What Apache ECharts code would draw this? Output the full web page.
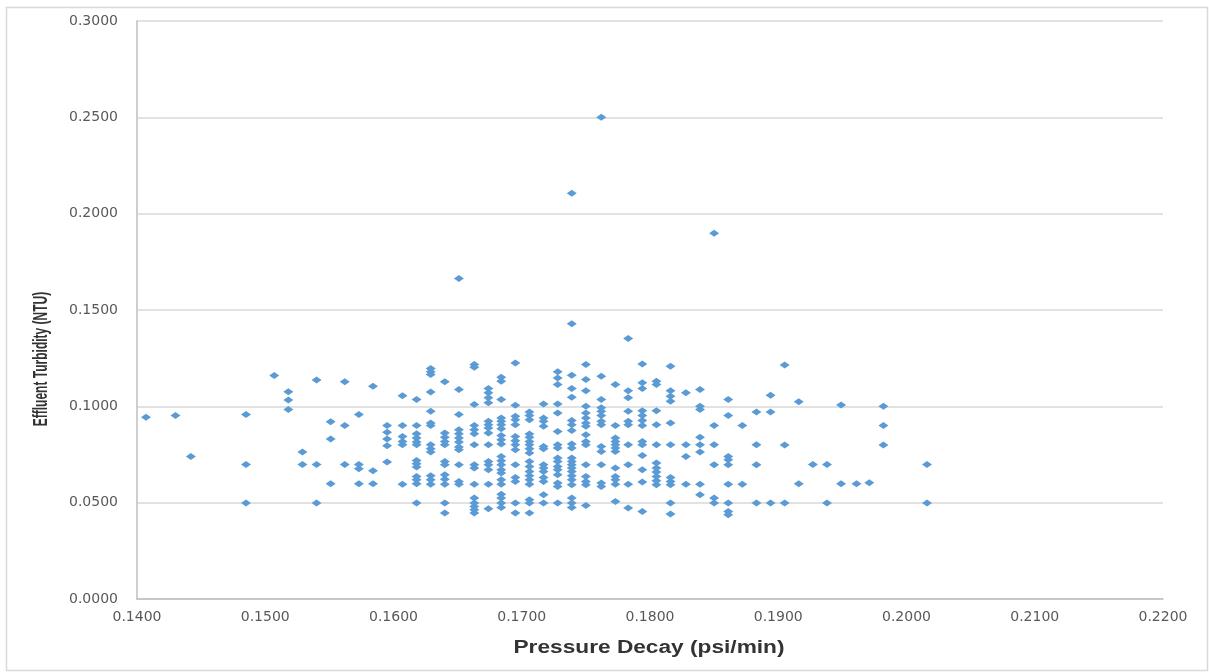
<!DOCTYPE html>
<html>
<head>
<meta charset="utf-8">
<script src="https://cdn.jsdelivr.net/npm/echarts@6/dist/echarts.min.js"></script>
<style>html,body{margin:0;padding:0;background:#fff;}#chart{width:1209px;height:672px;}</style>
</head>
<body>
<div id="chart"></div>
<script>
// Pressure decay (psi/min) of each vertical column of points
var pressureDecay = [0.1407,0.1430,0.1442,0.1485,0.1507,0.1518,0.1529,0.1540,0.1551,0.1562,0.1573,0.1584,0.1595,0.1607,0.1618,0.1629,0.1640,0.1651,0.1663,0.1674,0.1684,0.1695,0.1706,0.1717,0.1728,0.1739,0.1750,0.1762,0.1773,0.1783,0.1794,0.1805,0.1816,0.1828,0.1839,0.1850,0.1861,0.1872,0.1883,0.1894,0.1905,0.1916,0.1927,0.1938,0.1949,0.1961,0.1971,0.1982,0.2016];
// Effluent turbidity (NTU) readings for each column above
var turbidity = [
 [0.0943],
 [0.0953],
 [0.074],
 [0.0958,0.0698,0.0498],
 [0.116],
 [0.1076,0.1033,0.0983],
 [0.0763,0.0698],
 [0.1137,0.0698,0.0498],
 [0.092,0.083,0.0598],
 [0.1127,0.090,0.0698],
 [0.0957,0.0698,0.0676,0.0598],
 [0.1104,0.0666,0.0598],
 [0.0901,0.0865,0.083,0.0795,0.0711],
 [0.1055,0.090,0.0844,0.0818,0.080,0.0596],
 [0.1035,0.090,0.0858,0.0835,0.0815,0.080,0.0719,0.0702,0.0685,0.0636,0.0619,0.0598,0.0498],
 [0.1196,0.1179,0.1165,0.1075,0.0974,0.0914,0.090,0.080,0.078,0.0763,0.064,0.0619,0.0596],
 [0.1127,0.0862,0.0839,0.0818,0.080,0.0714,0.0697,0.0645,0.0622,0.0596,0.0498,0.0446],
 [0.1664,0.1087,0.0957,0.0879,0.0858,0.0835,0.0815,0.0789,0.0775,0.0697,0.061,0.0596],
 [0.1217,0.1203,0.1009,0.090,0.0879,0.0858,0.080,0.0697,0.068,0.0596,0.0524,0.0498,0.048,0.0463,0.0446],
 [0.1092,0.107,0.1044,0.1018,0.0922,0.0905,0.0888,0.0862,0.080,0.0714,0.0697,0.0671,0.0596,0.0468],
 [0.1151,0.113,0.1035,0.094,0.0922,0.0905,0.0884,0.0849,0.0827,0.0804,0.074,0.0718,0.0697,0.0671,0.0654,0.0619,0.0596,0.0544,0.0524,0.0498,0.0475],
 [0.1225,0.1005,0.0948,0.0931,0.0905,0.0844,0.0822,0.080,0.0775,0.0697,0.0631,0.061,0.0498,0.0446],
 [0.0971,0.0953,0.0931,0.0856,0.0839,0.0818,0.080,0.078,0.0758,0.0714,0.0688,0.0662,0.064,0.0619,0.0596,0.0515,0.0498,0.0446],
 [0.1012,0.094,0.0922,0.0896,0.0792,0.078,0.0697,0.068,0.0662,0.0631,0.061,0.0541,0.0498],
 [0.1179,0.1147,0.1113,0.1012,0.0966,0.087,0.080,0.0784,0.0732,0.0714,0.0688,0.0671,0.0645,0.0602,0.0584,0.0498],
 [0.2106,0.1428,0.1161,0.1092,0.1047,0.0926,0.0905,0.0874,0.0804,0.0784,0.0732,0.0714,0.0697,0.068,0.0662,0.064,0.0619,0.0593,0.0524,0.0498,0.0475],
 [0.1217,0.1139,0.1081,0.100,0.0966,0.094,0.0914,0.0896,0.0853,0.0818,0.080,0.0697,0.0636,0.061,0.0593,0.0485],
 [0.2501,0.1156,0.1035,0.0992,0.0974,0.0953,0.0922,0.0905,0.0792,0.0766,0.0697,0.0602,0.0584],
 [0.1113,0.090,0.0835,0.0818,0.080,0.0784,0.0766,0.068,0.0636,0.0619,0.0596,0.0506],
 [0.1352,0.1081,0.1044,0.0974,0.0922,0.0905,0.080,0.0697,0.0596,0.0472],
 [0.122,0.1122,0.1092,0.0977,0.0953,0.0926,0.090,0.0818,0.080,0.0745,0.0671,0.0607,0.0454],
 [0.113,0.1113,0.0977,0.0905,0.080,0.0706,0.068,0.0659,0.0636,0.0614,0.0593],
 [0.1208,0.1081,0.1052,0.1026,0.0914,0.080,0.0631,0.061,0.0593,0.0498,0.0441],
 [0.107,0.080,0.074,0.0596],
 [0.1087,0.100,0.0983,0.0839,0.080,0.0763,0.0596,0.0541],
 [0.1898,0.090,0.080,0.0697,0.0524,0.0498],
 [0.1035,0.0953,0.074,0.0723,0.0697,0.0596,0.0498,0.0454,0.0437],
 [0.090,0.0596],
 [0.0971,0.080,0.0697,0.0498],
 [0.1057,0.0971,0.0498],
 [0.1215,0.0799,0.0498],
 [0.1024,0.0598],
 [0.0698],
 [0.0698,0.0498],
 [0.1007,0.0598],
 [0.0598],
 [0.0603],
 [0.100,0.090,0.0799],
 [0.0698,0.0498]
];
var xTitle = 'Pressure Decay (psi/min)';
var yTitle = 'Effluent Turbidity (NTU)';

var points = [];
pressureDecay.forEach(function (x, i) {
  turbidity[i].forEach(function (y) { points.push([x, y]); });
});

var chart = echarts.init(document.getElementById('chart'));
var font = '"Liberation Sans", Arial, sans-serif';
var labelFont = '"DejaVu Sans", sans-serif';
chart.setOption({
  animation: false,
  backgroundColor: '#ffffff',
  graphic: [{
    type: 'rect', left: 4, top: 5, z: -1,
    shape: { width: 1201, height: 663 },
    style: { fill: 'none', stroke: '#d9d9d9', lineWidth: 1.5 }
  }, {
    type: 'text', x: 649, y: 648, scaleX: 1.26, scaleY: 1,
    style: { text: xTitle, fontFamily: font, fontSize: 18, fontWeight: 'bold', fill: '#333333',
      align: 'center', verticalAlign: 'middle' }
  }, {
    type: 'text', x: 42, y: 359, rotation: Math.PI / 2, scaleX: 0.8, scaleY: 1.3,
    style: { text: yTitle, fontFamily: font, fontSize: 15, fontWeight: 'bold', fill: '#333333',
      align: 'center', verticalAlign: 'middle' }
  }],
  grid: { left: 137, right: 46, top: 21, bottom: 73 },
  xAxis: {
    type: 'value', min: 0.14, max: 0.22, interval: 0.01,
    axisLine: { show: true, lineStyle: { color: '#bfbfbf', width: 1.5 } },
    axisTick: { show: false },
    splitLine: { show: false },
    axisLabel: { fontFamily: labelFont, fontSize: 14, color: '#595959', margin: 11,
      formatter: function (v) { return v.toFixed(4); } }
  },
  yAxis: {
    type: 'value', min: 0, max: 0.3, interval: 0.05,
    axisLine: { show: true, lineStyle: { color: '#bfbfbf', width: 1.5 } },
    axisTick: { show: false },
    splitLine: { show: true, lineStyle: { color: '#d9d9d9', width: 1.5 } },
    axisLabel: { fontFamily: labelFont, fontSize: 14, color: '#595959', margin: 19,
      formatter: function (v) { return v.toFixed(4); } }
  },
  series: [{
    type: 'scatter',
    symbol: 'diamond',
    symbolSize: [10, 7],
    itemStyle: { color: '#5b9bd5', opacity: 1 },
    data: points
  }]
});
</script>
</body>
</html>
